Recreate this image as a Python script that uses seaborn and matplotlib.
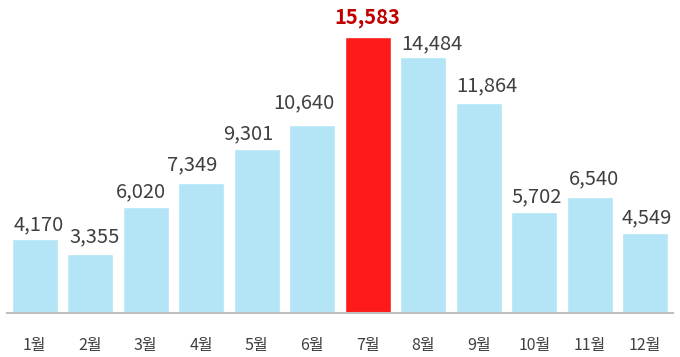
import matplotlib
matplotlib.use("Agg")
import matplotlib.pyplot as plt
import seaborn as sns
import pandas as pd

months = ["1월", "2월", "3월", "4월", "5월", "6월", "7월", "8월", "9월", "10월", "11월", "12월"]
values = [4170, 3355, 6020, 7349, 9301, 10640, 15583, 14484, 11864, 5702, 6540, 4549]
highlight = "7월"

# manual label nudges in pixels (dx, gap above bar), as placed in the original
label_dx = [4, 4, -5, -9, -8, -8, 0, 9, 8, 2, 4, 2]
label_gap = [9, 11, 9, 13, 9, 17, 14, 8, 12, 10, 13, 9]

sns.set_theme(style="white")
plt.rcParams['font.family'] = ['Noto Sans CJK KR', 'DejaVu Sans']

df = pd.DataFrame({"month": months, "value": values})
palette = {m: ("#FF1A1A" if m == highlight else "#B3E5F6") for m in months}

fig = plt.figure(figsize=(6.8, 3.57), dpi=100)
ax = fig.add_axes([7/680, 44/357, 666/680, 313/357])
sns.barplot(data=df, x="month", y="value", hue="month", palette=palette,
            width=0.83, legend=False, ax=ax, saturation=1)
ax.set_xlim(-0.5, 11.5)
ax.set_ylim(0, 17700)
ax.set_yticks([])
ax.set_xlabel("")
ax.set_ylabel("")
for s in ["top", "left", "right"]:
    ax.spines[s].set_visible(False)
ax.spines["bottom"].set_color("#BFBFBF")
ax.spines["bottom"].set_linewidth(1.5)
ax.tick_params(axis="x", length=0, pad=17, labelsize=11.5, colors="#404040")

for i, (m, v) in enumerate(zip(months, values)):
    bold = (m == highlight)
    ax.annotate(f"{v:,}", (i, v), xytext=(label_dx[i], label_gap[i]),
                textcoords="offset pixels", ha="center", va="baseline",
                fontsize=14.5, fontweight="bold" if bold else "normal",
                color="#C00000" if bold else "#404040")

fig.savefig("out.png", dpi=100)
